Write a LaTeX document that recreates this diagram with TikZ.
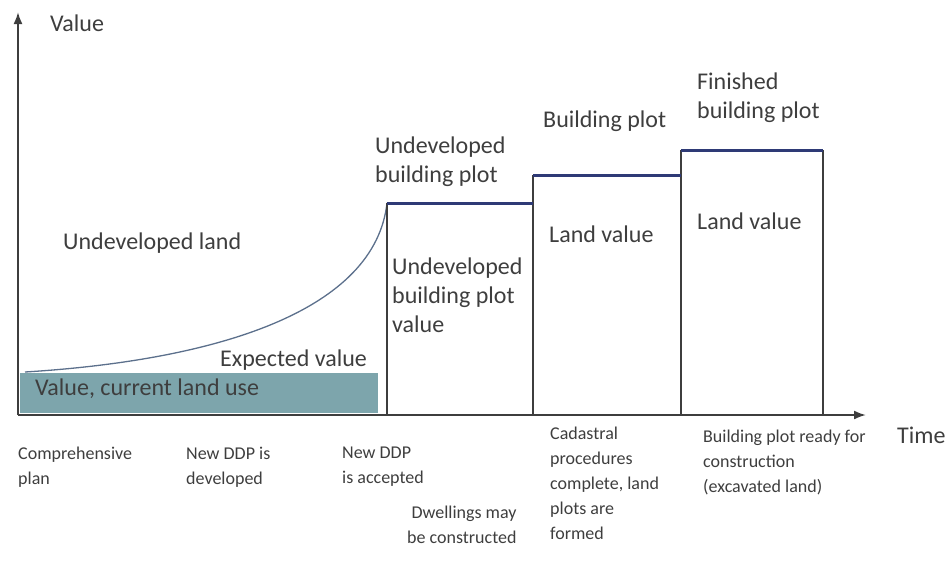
\documentclass[tikz,border=0pt]{standalone}
\usepackage{fontspec}
\setmainfont{Carlito}
\usepackage{tikz}
\usetikzlibrary{arrows.meta}
\definecolor{vgray}{RGB}{62,62,62}
\definecolor{vnavy}{RGB}{46,58,118}
\definecolor{vteal}{RGB}{125,165,172}
\definecolor{vcurve}{RGB}{92,112,140}

\begin{document}
\begin{tikzpicture}[
  x=1pt, y=-1pt,
  >={Latex[length=12pt, width=9pt]},
  axis/.style={->, line width=2pt, vgray},
  side/.style={line width=2pt, vgray},
  top/.style={line width=3pt, vnavy},
  lab/.style={anchor=west, inner sep=0pt, align=left, text=vgray,
              font=\fontsize{24}{29}\selectfont},
  event/.style={anchor=west, inner sep=0pt, align=left, text=vgray,
                font=\fontsize{18}{25}\selectfont}
]
\useasboundingbox (0,0) rectangle (951,563);

% ---- Axes ----
\coordinate (O) at (18,415);
\coordinate (ytip) at (18,12);
\coordinate (xtip) at (866,415);
\fill[vteal] (20,373) rectangle (378,413);
\draw[axis] (O) -- (ytip);
\draw[axis] (O) -- (xtip);

% ---- Expected value curve ----
\coordinate (c0) at (25,372);
\coordinate (b1) at (387,203);
\draw[vcurve, line width=1.3pt] (c0) .. controls (220,360) and (375,310) .. (b1);

% ---- Value steps ----
\coordinate (b2) at (533,175);
\coordinate (b3) at (681,150);
\coordinate (b4) at (823,150);
\draw[side] (b1) -- (b1 |- O);
\draw[side] (b2) -- (b2 |- O);
\draw[side] (b3) -- (b3 |- O);
\draw[side] (b4) -- (b4 |- O);
\draw[top] (b1) -- (b1 -| b2);
\draw[top] (b2) -- (b2 -| b3);
\draw[top] (b3) -- (b4);

% ---- Labels ----
\node[lab] (yl) at (50,23) {Value};
\node[lab] (xl) at (897,435) {Time};
\node[lab] (uland) at (63,243) {Undeveloped land};
\node[lab] (expv) at (220,360) {Expected value};
\node[lab] (curv) at (35,389) {Value, current land use};
\node[lab] (ubp) at (375,162) {Undeveloped\\building plot};
\node[lab] (ubpv) at (392,295) {Undeveloped\\building plot\\value};
\node[lab] (bp) at (543,121) {Building plot};
\node[lab] (lv1) at (549,234) {Land value};
\node[lab] (fbp) at (697,98) {Finished\\building plot};
\node[lab] (lv2) at (697,221) {Land value};

% ---- Events on the time axis ----
\node[event] (e1) at (18,467) {Comprehensive\\plan};
\node[event] (e2) at (186,467) {New DDP is\\developed};
\node[event] (e3) at (342,467) {New DDP\\is accepted};
\node[event, align=right] (e4) at (407,525) {Dwellings may\\be constructed};
\node[event] (e5) at (550,483) {Cadastral\\procedures\\complete, land\\plots are\\formed};
\node[event] (e6) at (703,462) {Building plot ready for\\construction\\(excavated land)};

\end{tikzpicture}
\end{document}
